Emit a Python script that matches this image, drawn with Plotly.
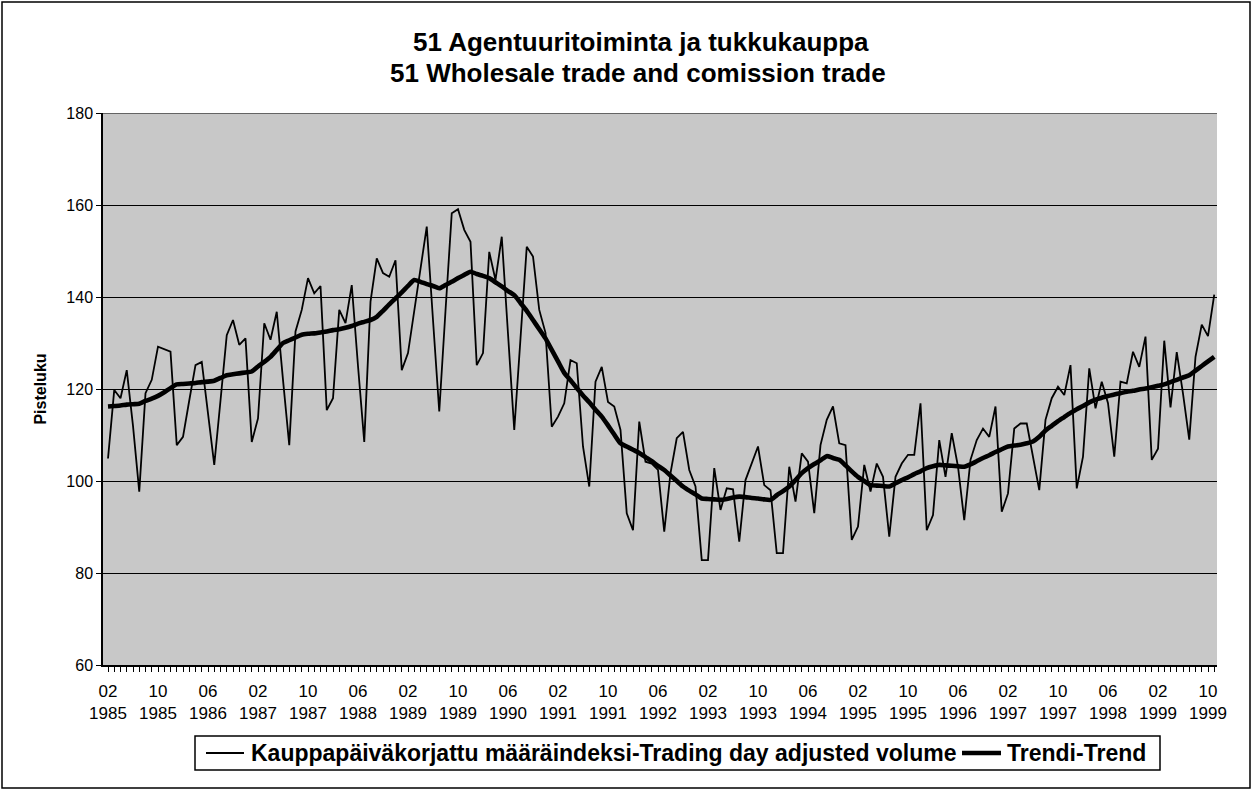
import plotly.graph_objects as go

# Monthly observations, 1985-02 ... 1999-11
volume = [
    104.9, 119.8, 118.0, 124.1, 112.0, 97.7, 119.1, 122.0, 129.2, 128.6,
    128.1, 107.8, 109.6, 117.5, 125.2, 125.9, 114.5, 103.5, 117.5, 131.7,
    135.0, 129.6, 131.0, 108.5, 113.6, 134.3, 130.7, 136.8, 122.0, 107.8,
    132.5, 137.2, 144.1, 140.8, 142.4, 115.4, 118.0, 137.2, 134.3, 142.6,
    125.0, 108.5, 139.0, 148.4, 145.2, 144.4, 148.0, 124.1, 127.8, 137.0,
    146.0, 155.3, 135.0, 115.1, 137.0, 158.2, 159.1, 154.6, 152.0, 125.2,
    127.8, 149.8, 143.7, 153.1, 132.0, 111.1, 131.0, 150.9, 148.8, 137.2,
    132.2, 111.8, 114.0, 116.9, 126.3, 125.6, 107.5, 98.8, 121.6, 124.8,
    117.2, 116.2, 111.1, 93.0, 89.3, 112.9, 104.2, 103.8, 102.4, 89.0,
    101.7, 109.3, 110.7, 102.4, 98.8, 82.8, 82.8, 102.8, 93.7, 98.4,
    98.2, 86.8, 100.2, 103.8, 107.5, 99.1, 98.0, 84.3, 84.3, 103.1,
    95.5, 106.0, 104.2, 93.0, 107.8, 113.3, 116.2, 108.2, 107.8, 87.2,
    90.1, 103.5, 97.7, 103.8, 100.9, 87.9, 100.9, 103.8, 105.7, 105.7,
    116.9, 89.3, 92.6, 108.9, 100.9, 110.4, 103.1, 91.5, 104.6, 108.9,
    111.4, 109.6, 116.2, 93.3, 97.3, 111.4, 112.5, 112.5, 105.0, 98.0,
    113.3, 118.0, 120.5, 118.7, 125.2, 98.4, 105.3, 124.5, 115.8, 121.6,
    116.9, 105.3, 121.6, 121.2, 128.1, 124.8, 131.4, 104.6, 107.0, 130.5,
    116.0, 128.0, 119.0, 109.0, 127.0, 134.0, 131.5, 140.5,
]

trend = [
    116.2, 116.3, 116.4, 116.6, 116.7, 116.8, 117.4, 117.9, 118.5, 119.3,
    120.2, 121.0, 121.1, 121.2, 121.3, 121.5, 121.6, 121.8, 122.4, 123.0,
    123.2, 123.4, 123.6, 123.8, 124.9, 125.9, 127.0, 128.5, 130.0, 130.6,
    131.2, 131.8, 132.0, 132.1, 132.3, 132.5, 132.8, 133.0, 133.3, 133.7,
    134.2, 134.6, 135.0, 135.7, 137.0, 138.4, 139.7, 141.0, 142.4, 143.7,
    143.3, 142.8, 142.4, 141.9, 142.6, 143.3, 144.1, 144.8, 145.5, 145.0,
    144.6, 144.1, 143.2, 142.3, 141.3, 140.4, 138.7, 137.0, 135.0, 133.0,
    131.0, 128.5, 126.0, 123.5, 121.9, 120.2, 118.6, 117.1, 115.5, 114.0,
    112.1, 110.1, 108.2, 107.5, 106.8, 106.1, 105.2, 104.3, 103.3, 102.4,
    101.2, 100.0, 98.8, 97.9, 97.1, 96.2, 96.1, 96.0, 95.9, 96.1,
    96.4, 96.6, 96.5, 96.3, 96.2, 96.0, 95.9, 96.9, 97.8, 98.8,
    100.2, 101.7, 102.8, 103.7, 104.5, 105.4, 105.0, 104.6, 103.4, 102.1,
    100.9, 100.0, 99.1, 99.0, 98.9, 98.8, 99.5, 100.2, 100.8, 101.5,
    102.1, 102.8, 103.2, 103.5, 103.4, 103.3, 103.2, 103.1, 103.6, 104.3,
    105.0, 105.6, 106.3, 106.9, 107.5, 107.7, 107.9, 108.2, 108.6, 109.6,
    111.0, 112.0, 113.0, 113.9, 114.8, 115.6, 116.3, 117.1, 117.7, 118.1,
    118.5, 118.8, 119.1, 119.4, 119.6, 119.9, 120.1, 120.4, 120.7, 121.0,
    121.5, 122.0, 122.5, 123.0, 124.0, 125.0, 126.0, 127.0,
]

tick_labels = [
    "02<br>1985", "10<br>1985", "06<br>1986", "02<br>1987", "10<br>1987",
    "06<br>1988", "02<br>1989", "10<br>1989", "06<br>1990", "02<br>1991",
    "10<br>1991", "06<br>1992", "02<br>1993", "10<br>1993", "06<br>1994",
    "02<br>1995", "10<br>1995", "06<br>1996", "02<br>1997", "10<br>1997",
    "06<br>1998", "02<br>1999", "10<br>1999",
]

title_lines = [
    "51 Agentuuritoiminta ja tukkukauppa",
    "51 Wholesale trade and comission trade",
]

series_names = [
    "Kauppapäiväkorjattu määräindeksi-Trading day adjusted volume",
    "Trendi-Trend",
]

x = list(range(len(volume)))
tick_positions = [8 * k for k in range(len(tick_labels))]

FONT = "Liberation Sans, Arial, Helvetica, sans-serif"

W, H = 1253, 791
L, R, T, B = 103, 36, 113, 126
pw, ph = W - L - R, H - T - B

def px_x(p):
    return (p - L) / pw

def px_y(p):
    return (H - B - p) / ph

fig = go.Figure()
fig.add_trace(go.Scatter(
    x=x, y=volume, mode="lines", name=series_names[0],
    line=dict(color="black", width=1.8), showlegend=False,
))
fig.add_trace(go.Scatter(
    x=x, y=trend, mode="lines", name=series_names[1],
    line=dict(color="black", width=4.6, shape="spline", smoothing=0.6),
    showlegend=False,
))

# legend drawn as a framed box with line samples and labels
leg_top, leg_bot = 736, 770
leg_mid = (leg_top + leg_bot) / 2
legend_font = dict(size=23, family=FONT, color="black")
title_font = dict(size=26, family=FONT, color="black")
shapes = [
    dict(type="line", xref="paper", yref="y", x0=0, x1=1, y0=180, y1=180,
         line=dict(color="black", width=1)),
    dict(type="rect", xref="paper", yref="paper",
         x0=px_x(2), x1=px_x(1250), y0=px_y(788), y1=px_y(2),
         line=dict(color="black", width=1.5), fillcolor="rgba(0,0,0,0)", layer="below"),
    dict(type="rect", xref="paper", yref="paper",
         x0=px_x(195), x1=px_x(1160), y0=px_y(leg_bot), y1=px_y(leg_top),
         line=dict(color="black", width=1.5), fillcolor="white"),
    dict(type="line", xref="paper", yref="paper",
         x0=px_x(206), x1=px_x(244), y0=px_y(leg_mid), y1=px_y(leg_mid),
         line=dict(color="black", width=1.8)),
    dict(type="line", xref="paper", yref="paper",
         x0=px_x(962), x1=px_x(1001), y0=px_y(leg_mid), y1=px_y(leg_mid),
         line=dict(color="black", width=4.6)),
]
annotations = [
    dict(text="<b>" + series_names[0] + "</b>", xref="paper", yref="paper",
         x=px_x(249), y=px_y(leg_mid), xanchor="left", yanchor="middle",
         showarrow=False, font=legend_font),
    dict(text="<b>" + series_names[1] + "</b>", xref="paper", yref="paper",
         x=px_x(1005), y=px_y(leg_mid), xanchor="left", yanchor="middle",
         showarrow=False, font=legend_font),
    dict(text="<b>" + title_lines[0] + "</b>", xref="paper", yref="paper",
         x=px_x(641), y=px_y(42), xanchor="center", yanchor="middle",
         showarrow=False, font=title_font),
    dict(text="<b>" + title_lines[1] + "</b>", xref="paper", yref="paper",
         x=px_x(638), y=px_y(73), xanchor="center", yanchor="middle",
         showarrow=False, font=title_font),
]

fig.update_layout(
    width=W, height=H,
    margin=dict(l=L, r=R, t=T, b=B, autoexpand=False),
    paper_bgcolor="white",
    plot_bgcolor="#c8c8c8",
    font=dict(family=FONT, color="black", size=16),
    showlegend=False,
    xaxis=dict(
        range=[-0.8, len(volume) - 0.56],
        tickmode="array",
        tickvals=tick_positions,
        ticktext=tick_labels,
        showgrid=False,
        zeroline=False,
        showline=True, linecolor="black", linewidth=1.5,
        ticks="outside", ticklen=5, tickcolor="black",
        minor=dict(dtick=1, ticks="outside", ticklen=5, tickcolor="black", showgrid=False),
        tickfont=dict(size=17, family=FONT),
        ticklabelstandoff=5,
    ),
    yaxis=dict(
        range=[60, 180],
        dtick=20,
        showgrid=True, gridcolor="black", gridwidth=1,
        zeroline=False,
        showline=True, linecolor="black", linewidth=1.5,
        ticks="outside", ticklen=5, tickcolor="black",
        tickfont=dict(size=16, family=FONT),
        title=dict(text="<b>Pisteluku</b>", font=dict(size=16, family=FONT), standoff=16),
    ),
    shapes=shapes,
    annotations=annotations,
)

fig.write_html(
    "out.html",
    config={"displayModeBar": False},
    post_script="document.body.style.margin='0px';document.body.style.overflow='hidden';",
)
